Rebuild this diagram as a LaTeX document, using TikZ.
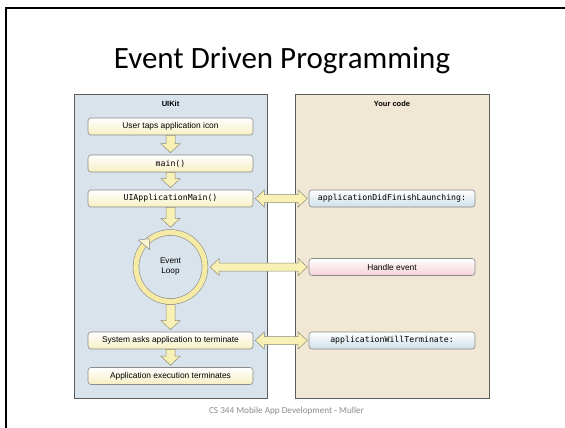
\documentclass[tikz,border=0pt]{standalone}
\usepackage{fontspec}
\setmainfont{Carlito}
\newfontfamily\helv{Liberation Sans}
\newfontfamily\mono{DejaVu Sans Mono}
\usetikzlibrary{calc}

\definecolor{kitblue}{HTML}{D9E3EB}
\definecolor{codetan}{HTML}{F0E7D4}
\definecolor{paneledge}{HTML}{5E5E5E}
\definecolor{boxedge}{HTML}{8A8A8A}
\definecolor{cream}{HTML}{F6EFC2}
\definecolor{ice}{HTML}{CFDFEA}
\definecolor{blush}{HTML}{F4D1D8}
\definecolor{ringfill}{HTML}{F5EBA4}
\definecolor{arrowfill}{HTML}{F8F0B4}
\definecolor{arrowedge}{HTML}{8E8C78}
\definecolor{footgray}{HTML}{8C8C8C}

\begin{document}
\begin{tikzpicture}[x=1pt,y=-1pt,node distance=37pt,
  panel/.style={draw=paneledge,line width=0.9pt,minimum height=304pt,inner sep=0pt},
  head/.style={font=\helv\bfseries\fontsize{7.5}{8}\selectfont},
  kitbox/.style={draw=boxedge,line width=0.6pt,rounded corners=3pt,top color=white,bottom color=cream,
    minimum width=165pt,minimum height=17pt,inner sep=0pt,font=\helv\fontsize{8.4}{9}\selectfont},
  kitcode/.style={kitbox,font=\mono\fontsize{8.2}{9}\selectfont},
  codebox/.style={kitcode,bottom color=ice,minimum width=166pt},
  loop/.style={circle,draw=boxedge,line width=0.6pt,double=ringfill,double distance=5.2pt,
    minimum size=69pt,outer sep=3.2pt,inner sep=0pt,align=center,font=\helv\fontsize{8.2}{10}\selectfont},
  block/.style={fill=arrowfill,draw=arrowedge,line width=0.5pt,line join=miter},
  vblock/.style={block,to path={let \p1=(\tikztostart.south),\p2=(\tikztotarget.north) in
    (\x1-4.5pt,\y1) -- (\x1-4.5pt,\y2+11pt) -- (\x1-9.5pt,\y2+11pt) -- (\x1,\y2+2pt)
    -- (\x1+9.5pt,\y2+11pt) -- (\x1+4.5pt,\y2+11pt) -- (\x1+4.5pt,\y1) -- cycle}},
  hblock/.style={block,to path={let \p1=(\tikztostart.east),\p2=(\tikztotarget.west) in
    (\x1+2pt,\y1) -- (\x1+11pt,\y1+8.5pt) -- (\x1+11pt,\y1+4pt) -- (\x2-10.5pt,\y1+4pt)
    -- (\x2-10.5pt,\y1+8.5pt) -- (\x2-1.5pt,\y1) -- (\x2-10.5pt,\y1-8.5pt) -- (\x2-10.5pt,\y1-4pt)
    -- (\x1+11pt,\y1-4pt) -- (\x1+11pt,\y1-8.5pt) -- cycle}}]

\fill[white] (0,0) rectangle (565,428);
\useasboundingbox (0,0) rectangle (565,428);
\draw[line width=2.5pt] (6,428) -- (6,8) -- (565,8);

\node[font=\fontsize{31}{36}\selectfont] (title) at (282,61) {Event Driven Programming};

\node[panel,fill=kitblue,minimum width=193pt] (uikit) at (170.5,246) {};
\node[panel,fill=codetan,minimum width=194pt] (yours) at (392,246) {};
\node[head] (kitname) at (170.5,104) {UIKit};
\node[head] (yourname) at (392,104) {Your code};

\node[kitbox]  (tap) at (170.5,126.5)                   {User taps application icon};
\node[kitcode] (main)   [below of=tap]                  {main()};
\node[kitcode] (uiam)   [below of=main,node distance=35pt] {UIApplicationMain()};
\node[loop]    (evloop) [below of=uiam,node distance=68.5pt] {Event\\Loop};
\node[kitbox]  (ask)    [below of=evloop,node distance=73.5pt] {System asks application to terminate};
\node[kitbox]  (quit)   [below of=ask,node distance=35.5pt] {Application execution terminates};

\node[codebox] (launch) [right of=uiam,node distance=221.5pt] {applicationDidFinishLaunching:};
\node[codebox,bottom color=blush,font=\helv\fontsize{8.4}{9}\selectfont]
               (handle) [right of=evloop,node distance=221.5pt] {Handle event};
\node[codebox] (willend) [right of=ask,node distance=221.5pt] {applicationWillTerminate:};

\draw[draw=boxedge,fill=ringfill!50!white,line width=0.5pt,shift={(evloop.center)},rotate=140]
  (27pt,0pt) -- (34.5pt,-8pt) -- (42pt,0pt) -- cycle;

\path[every edge/.style=vblock]
              (tap) edge (main)
              (main) edge (uiam)
              (uiam) edge (evloop)
              (evloop) edge (ask)
              (ask) edge (quit);
\path[every edge/.style=hblock]
              (uiam) edge (launch)
              (evloop) edge (handle)
              (ask) edge (willend);

\node[font=\fontsize{9.2}{11}\selectfont,text=footgray] (credit) at (286.5,411) {CS 344 Mobile App Development - Muller};
\end{tikzpicture}
\end{document}
